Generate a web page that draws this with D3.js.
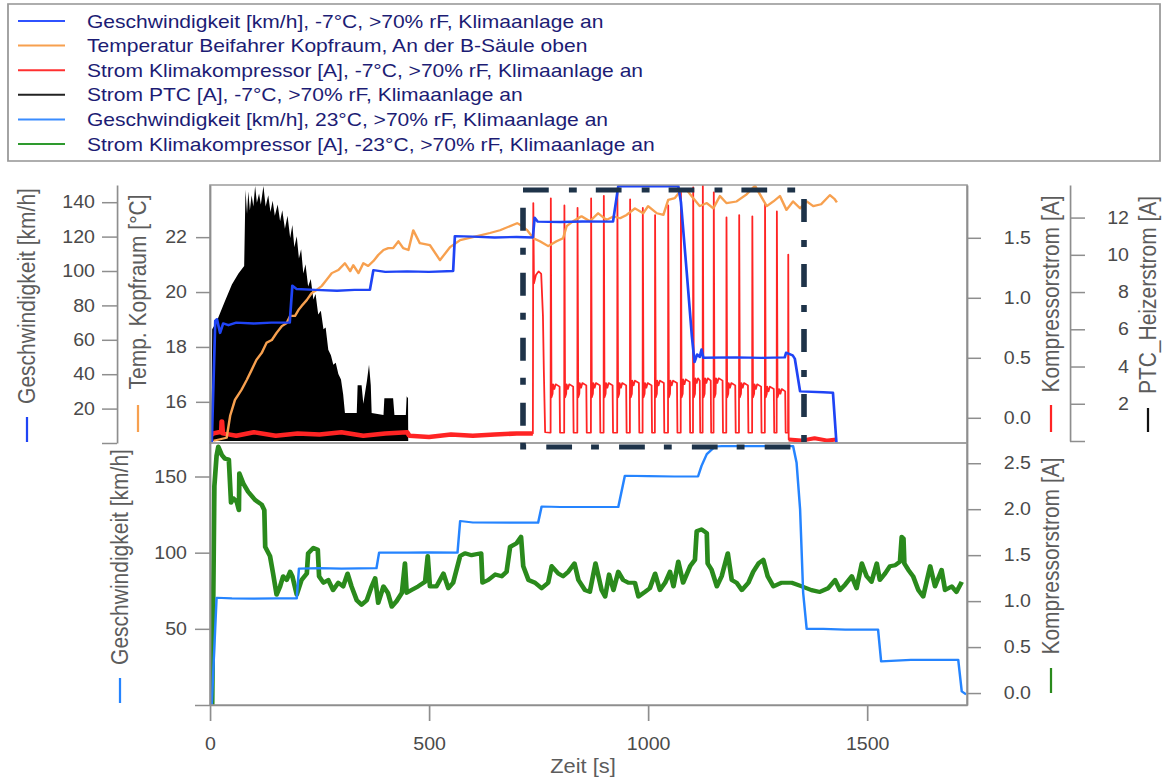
<!DOCTYPE html>
<html>
<head>
<meta charset="utf-8">
<script src="https://cdn.jsdelivr.net/npm/d3@7"></script>
<style>
  html, body { margin: 0; padding: 0; background: #fff; }
  svg { display: block; font-family: "Liberation Sans", Arial, sans-serif; }
</style>
</head>
<body>
<svg id="chart" width="1163" height="778"></svg>
<script>
// ---------------- tick values ----------------
const timeTicks = [0, 500, 1000, 1500];
const speedTopTicks = [0, 20, 40, 60, 80, 100, 120, 140];
const tempTicks = [16, 18, 20, 22];
const compTopTicks = [0, 0.5, 1.0, 1.5];
const ptcTicks = [0, 2, 4, 6, 8, 10, 12];
const speedBottomTicks = [0, 50, 100, 150];
const compBottomTicks = [0, 0.5, 1.0, 1.5, 2.0, 2.5];

// ---------------- legend ----------------
const legendLabels = [
  "Geschwindigkeit [km/h], -7°C, >70% rF, Klimaanlage an",
  "Temperatur Beifahrer Kopfraum, An der B-Säule oben",
  "Strom Klimakompressor [A], -7°C, >70% rF, Klimaanlage an",
  "Strom PTC [A], -7°C, >70% rF, Klimaanlage an",
  "Geschwindigkeit [km/h], 23°C, >70% rF, Klimaanlage an",
  "Strom Klimakompressor [A], -23°C, >70% rF, Klimaanlage an"
];
const legendColors = ["#2f52ff", "#f7a04f", "#ff3030", "#222222", "#3a8cff", "#2e9a2e"];

// ---------------- top panel series: [time s, value] ----------------
// vehicle speed at -7 °C [km/h]
const speedCold = [
  [0,0],[4,0],[12,71],[16,72],[23,64],[30,69.5],[42,68.5],[60,70],[100,69.5],[140,70],[182,70],
  [188,91.5],[198,89.5],[240,89],[290,88.5],[330,89],[365,89],
  [373,100.5],[400,99.5],[450,99.8],[500,99.5],[555,100],
  [559,120.3],[600,120],[650,119.5],[700,119.8],[737,119.5],
  [741,131],[748,128.7],[800,128.5],[850,128.8],[920,128.7],
  [932,149.3],[1000,149.3],[1069,149.3],
  [1075,140],[1088,100],[1100,62],[1106,47],[1112,51.5],[1118,50],[1122,54.4],[1126,49.6],
  [1200,49.8],[1260,49.5],[1312,49.8],[1315,52.5],[1330,51],[1335,49],
  [1347,30],[1400,29.5],[1422,29.2],[1430,0]
];

// cabin head-space temperature, passenger side [°C]
const tempCabin = [
  [8,14.58],[38,14.69],[46,15.49],[57,16.07],[72,16.44],[84,16.8],[95,17.16],[106,17.53],[118,17.78],
  [129,18.15],[141,18.25],[152,18.51],[164,18.76],[175,18.87],[183,19.13],[194,19.13],[202,19.35],
  [209,19.49],[221,19.71],[232,19.96],[243,20.07],[255,20.22],[266,20.44],[278,20.69],[293,20.8],
  [308,21.05],[320,20.76],[327,20.98],[339,20.69],[350,21.05],[361,20.95],[373,21.13],[384,21.35],
  [396,21.53],[407,21.6],[418,21.6],[430,21.85],[441,21.6],[453,21.53],[464,22.25],[479,21.78],
  [502,21.71],[525,21.16],[548,21.64],[571,21.89],[600,22.0],[639,22.15],[662,22.25],[701,22.51],
  [708,22.45],[723,22.27],[738,21.96],[753,21.85],[772,21.67],[791,21.85],[806,21.96],[814,22.4],
  [829,22.58],[848,22.76],[867,22.58],[886,22.87],[905,22.63],[921,22.75],[936,22.69],[951,22.81],
  [970,23.05],[989,22.87],[1000,23.13],[1020,22.87],[1035,22.81],[1046,23.36],[1061,23.42],[1073,23.67],
  [1088,23.72],[1103,23.42],[1118,23.13],[1134,23.24],[1149,23.05],[1164,23.5],[1179,23.24],[1202,23.3],
  [1225,23.56],[1244,23.87],[1256,23.54],[1271,23.13],[1286,23.3],[1301,23.5],[1316,22.99],[1331,23.3],
  [1347,23.05],[1362,23.3],[1377,23.13],[1395,23.2],[1415,23.53],[1425,23.4],[1431,23.27]
];

// PTC heater current, peak envelope of the switching [A]
const ptcCurrent = [
  [3,0],[5,6.0],[15,6.4],[34,7.5],[50,8.4],[65,9.0],[78,9.4],
  [81,13.5],[84.5,12.2],[87.5,13.4],[91,12.4],[95,13.2],[99,12.6],[103,13.7],[107,12.8],[112,13.3],
  [116,12.7],[122,13.7],[127,12.6],[133,13.2],[138,12.3],[143,12.9],[148,12.1],[154.5,12.7],[160,11.8],
  [165,12.4],[171,11.4],[177,12.1],[183,10.9],[188,11.6],[192.5,10.4],[198,11.0],[203,9.8],[208,10.3],
  [213,9.0],[218,9.5],[224,8.3],[230,8.7],[236,7.6],[241,7.9],[247,6.8],[253,7.0],[259,6.0],[264,6.1],
  [270,4.9],[276,4.6],[281.5,4.1],[287,4.2],[293,3.6],[299,3.3],[304,2.5],[308,1.5],[335,1.5],
  [337,3.0],[346,3.0],[350,2.0],[358,3.2],[363,4.1],[367,3.0],[369,1.5],[396,1.4],[398,2.3],
  [418,2.3],[421,1.4],[447,1.4],[449,2.4],[452,2.3],[452.5,0]
];

// compressor current at -7 °C [A]: idle part, start-up hump, on/off cycles, tail
const compIdle = [
  [0,-0.15],[8,-0.13],[20,-0.12],[26,-0.12],[27,-0.03],[29,-0.13],[60,-0.15],[100,-0.12],[150,-0.15],
  [200,-0.13],[250,-0.14],[300,-0.12],[350,-0.15],[400,-0.13],[450,-0.12],[455,-0.15],[500,-0.16],
  [550,-0.14],[600,-0.15],[650,-0.14],[700,-0.13],[737,-0.13]
];
const compHump = [
  [738,1.79],[739.5,1.12],[744,1.19],[750,1.22],[756,1.2],[760,0.85],[762,0.4],[765,-0.12],[777,-0.125]
];
const compSpikeTimes = [778,809,839,870,899,930,959,988,1016,1046,1075,1103,1125,1150,1179,1208,1238,1267,1294,1320];
const compSpikePeaks = [1.83,1.77,1.75,1.83,1.85,1.87,1.82,1.75,1.69,1.77,1.88,1.92,1.94,1.88,1.67,1.69,1.68,1.78,1.72,1.36];
const compPlateauTops = [0.28,0.28,0.29,0.29,0.29,0.29,0.31,0.29,0.31,0.31,0.32,0.33,0.33,0.33,0.29,0.29,0.28,0.26,0.24];
const compBaseLevel = -0.125;
const compTail = [[1321,-0.18],[1350,-0.19],[1380,-0.17],[1410,-0.19],[1430,-0.18]];

// ---------------- bottom panel series ----------------
// vehicle speed at 23 °C [km/h]
const speedWarm = [
  [0,0],[4,0],[15,70.4],[50,70],[100,69.8],[150,70],[198,70],
  [203,89.5],[250,89.8],[300,89.5],[380,89.8],
  [386,100],[450,100],[500,100.2],[565,100],
  [571,120.8],[600,119.8],[700,119.7],[749,119.7],
  [757,130.3],[800,130],[900,130],[932,130],
  [947,150.5],[1000,150.2],[1060,150],[1114,150],
  [1122,157],[1134,164.7],[1153,169.7],[1168,170],[1250,170],[1331,170],
  [1339,159],[1347,128.5],[1354,73.7],[1362,50],[1400,50],[1450,49.5],[1525,49.5],
  [1532,28.7],[1600,29.6],[1650,29.6],[1708,29.6],[1716,9],[1726,7]
];

// compressor current at -23 °C [A]
const compColdest = [
  [5,-0.13],[10,2.25],[15,2.58],[19,2.68],[27,2.59],[34,2.55],[43,2.54],[48,2.07],[53,2.12],[61,2.08],
  [66,1.99],[67,2.39],[76,2.28],[87,2.19],[103,2.1],[118,2.05],[124,1.99],[126,1.59],[137,1.49],[144,1.3],
  [152,1.07],[160,1.16],[167,1.27],[175,1.23],[183,1.32],[188,1.27],[198,1.07],[209,1.23],[221,1.3],
  [224,1.52],[236,1.58],[246,1.56],[249,1.27],[259,1.2],[270,1.23],[281,1.12],[293,1.2],[304,1.16],
  [314,1.3],[323,1.16],[335,1.01],[346,0.96],[358,1.01],[369,1.16],[377,1.25],[384,0.98],[396,1.16],
  [406,1.09],[415,0.94],[426,1.0],[438,1.09],[445,1.41],[449,1.09],[460,1.12],[475,1.16],[491,1.21],
  [497,1.49],[502,1.16],[517,1.16],[533,1.3],[544,1.14],[555,1.2],[571,1.49],[582,1.52],[597,1.5],
  [619,1.52],[622,1.2],[635,1.23],[651,1.29],[666,1.27],[677,1.32],[685,1.59],[700,1.63],[710,1.7],
  [715,1.38],[727,1.23],[742,1.2],[757,1.14],[772,1.2],[780,1.38],[795,1.3],[806,1.27],[818,1.32],
  [832,1.41],[841,1.23],[856,1.12],[867,1.1],[880,1.41],[894,1.12],[902,1.05],[911,1.29],[921,1.12],
  [932,1.32],[943,1.23],[955,1.2],[970,1.2],[978,1.05],[993,1.1],[1004,1.14],[1016,1.3],[1027,1.12],
  [1039,1.2],[1050,1.32],[1058,1.16],[1069,1.43],[1080,1.2],[1096,1.38],[1107,1.45],[1111,1.76],
  [1122,1.78],[1134,1.74],[1136,1.41],[1145,1.34],[1157,1.16],[1168,1.27],[1182,1.52],[1191,1.23],
  [1202,1.2],[1214,1.12],[1229,1.2],[1240,1.32],[1252,1.41],[1263,1.45],[1273,1.27],[1286,1.16],
  [1305,1.2],[1328,1.2],[1351,1.16],[1373,1.12],[1392,1.1],[1411,1.14],[1427,1.23],[1438,1.12],
  [1450,1.18],[1465,1.27],[1476,1.14],[1488,1.41],[1499,1.27],[1510,1.21],[1522,1.41],[1529,1.23],
  [1541,1.3],[1552,1.38],[1564,1.39],[1575,1.43],[1579,1.7],[1583,1.68],[1585,1.41],[1594,1.34],
  [1605,1.27],[1617,1.12],[1628,1.05],[1644,1.38],[1655,1.16],[1670,1.34],[1678,1.12],[1693,1.16],
  [1704,1.1],[1716,1.21]
];

// ---------------- layout ----------------
const SX = 1.12;              // the figure is drawn slightly wider than tall
const U = v => v / SX;        // page x -> drawing x inside the stretched group

const AXIS = "#8e8e8e";
const TICK_TEXT = "#4a4a4a";
const TITLE = "#5c5c5c";

const COL_SPEED_COLD = "#1f44f5";
const COL_TEMP = "#f7a04f";
const COL_COMP = "#ff2424";
const COL_PTC = "#000000";
const COL_SPEED_WARM = "#2584ff";
const COL_COMP_COLDEST = "#2a8a1c";

const svg = d3.select("#chart");
const root = svg.append("g").attr("transform", `scale(${SX},1)`);

const xTime = d3.scaleLinear().domain([0, 1728]).range([U(210), U(967)]);
const yTopSpeed = d3.scaleLinear().domain([0, 150]).range([443, 185]);
const yTemp = d3.scaleLinear().domain([14.5, 23.9]).range([443, 185]);
const yTopComp = d3.scaleLinear().domain([-0.21, 1.94]).range([443, 185]);
const yPtc = d3.scaleLinear().domain([0, 13.75]).range([441, 185]);
const yBotSpeed = d3.scaleLinear().domain([0, 172]).range([705, 443]);
const yBotComp = d3.scaleLinear().domain([-0.13, 2.72]).range([705, 443]);

// ---------------- legend ----------------
root.append("rect")
  .attr("x", U(8)).attr("y", 4).attr("width", U(1152)).attr("height", 157)
  .attr("fill", "#fff").attr("stroke", "#9a9a9a").attr("stroke-width", 1.6);
legendLabels.forEach((lab, i) => {
  const cy = 21 + i * 24.6;
  root.append("line")
    .attr("x1", U(18)).attr("x2", U(65)).attr("y1", cy).attr("y2", cy)
    .attr("stroke", legendColors[i]).attr("stroke-width", 2);
  root.append("text")
    .attr("x", U(87)).attr("y", cy).attr("dominant-baseline", "central")
    .attr("fill", "#1c1c74").style("font-size", "18.8px").text(lab);
});

// ---------------- clip regions ----------------
const defs = svg.append("defs");
defs.append("clipPath").attr("id", "clipTop").append("rect")
  .attr("x", U(210)).attr("y", 185).attr("width", U(757)).attr("height", 258);
defs.append("clipPath").attr("id", "clipBot").append("rect")
  .attr("x", U(210)).attr("y", 443).attr("width", U(757)).attr("height", 262);

// ---------------- top panel ----------------
const topPanel = root.append("g").attr("clip-path", "url(#clipTop)");

topPanel.append("path").datum(ptcCurrent)
  .attr("d", d3.area().x(d => xTime(d[0])).y0(yPtc(0)).y1(d => yPtc(d[1])))
  .attr("fill", COL_PTC);

// compressor current: idle, hump, cycles, tail
const compPts = [...compIdle, ...compHump];
compSpikeTimes.forEach((t, i) => {
  const next = compSpikeTimes[i + 1];
  compPts.push([t - 0.5, compBaseLevel], [t, compSpikePeaks[i]]);
  if (next !== undefined) {
    const p = compPlateauTops[i];
    const end = Math.min(t + 21, next - 6);
    compPts.push([t + 1.5, 0.17], [t + 4, 0.2], [t + 5, p], [t + 8, p - 0.04], [t + 11, p],
                 [end - 1, p - 0.02], [end, compBaseLevel], [next - 0.5, compBaseLevel]);
  }
});
compPts.push(...compTail);

const lineTopComp = d3.line().x(d => xTime(d[0])).y(d => yTopComp(d[1]));
topPanel.append("path").datum(compIdle).attr("d", lineTopComp)
  .attr("fill", "none").attr("stroke", COL_COMP).attr("stroke-width", 4.5).attr("stroke-linejoin", "round");
topPanel.append("path").datum(compTail).attr("d", lineTopComp)
  .attr("fill", "none").attr("stroke", COL_COMP).attr("stroke-width", 4).attr("stroke-linejoin", "round");
topPanel.append("path").datum(compPts).attr("d", lineTopComp)
  .attr("fill", "none").attr("stroke", COL_COMP).attr("stroke-width", 1.6).attr("stroke-linejoin", "round");

topPanel.append("path").datum(tempCabin)
  .attr("d", d3.line().x(d => xTime(d[0])).y(d => yTemp(d[1])))
  .attr("fill", "none").attr("stroke", COL_TEMP).attr("stroke-width", 2.2).attr("stroke-linejoin", "round");

topPanel.append("path").datum(speedCold)
  .attr("d", d3.line().x(d => xTime(d[0])).y(d => yTopSpeed(d[1])))
  .attr("fill", "none").attr("stroke", COL_SPEED_COLD).attr("stroke-width", 2.4).attr("stroke-linejoin", "round");

// ---------------- bottom panel ----------------
const bottomPanel = root.append("g").attr("clip-path", "url(#clipBot)");
bottomPanel.append("path").datum(compColdest)
  .attr("d", d3.line().x(d => xTime(d[0])).y(d => yBotComp(d[1])))
  .attr("fill", "none").attr("stroke", COL_COMP_COLDEST).attr("stroke-width", 4.2).attr("stroke-linejoin", "round");
bottomPanel.append("path").datum(speedWarm)
  .attr("d", d3.line().x(d => xTime(d[0])).y(d => yBotSpeed(d[1])))
  .attr("fill", "none").attr("stroke", COL_SPEED_WARM).attr("stroke-width", 2.2).attr("stroke-linejoin", "round");

// ---------------- frames ----------------
[[185, 258], [443, 262]].forEach(([y, h]) => {
  root.append("rect").attr("x", U(210)).attr("y", y).attr("width", U(757)).attr("height", h)
    .attr("fill", "none").attr("stroke", "#9c9c9c").attr("stroke-width", 1.5);
});

// ---------------- axes ----------------
function drawAxis(axis, tx, ty) {
  const g = root.append("g").attr("transform", `translate(${tx},${ty})`).call(axis);
  g.attr("font-size", null).attr("font-family", null);
  g.select(".domain").attr("stroke", AXIS).attr("stroke-width", 1.5);
  g.selectAll(".tick line").attr("stroke", AXIS).attr("stroke-width", 1.5);
  g.selectAll(".tick text").attr("fill", TICK_TEXT).style("font-size", "17.5px");
  return g;
}
const hideZero = f => d => (d === 0 ? "" : f(d));

drawAxis(d3.axisLeft(yTopSpeed).tickValues(speedTopTicks).tickSize(U(15)).tickPadding(U(7))
  .tickSizeOuter(0).tickFormat(hideZero(d3.format("d"))), U(117), 0);
drawAxis(d3.axisLeft(yTemp).tickValues(tempTicks).tickSize(U(14)).tickPadding(U(9))
  .tickSizeOuter(0).tickFormat(d3.format("d")), U(210), 0);
drawAxis(d3.axisRight(yTopComp).tickValues(compTopTicks).tickSize(U(14))
  .tickSizeOuter(0).tickFormat(d3.format(".1f")), U(967), 0)
  .selectAll(".tick text").attr("text-anchor", "end").attr("x", U(64));
drawAxis(d3.axisRight(yPtc).tickValues(ptcTicks).tickSize(U(15))
  .tickSizeOuter(0).tickFormat(hideZero(d3.format("d"))), U(1070), 0)
  .selectAll(".tick text").attr("text-anchor", "end").attr("x", U(59));

drawAxis(d3.axisLeft(yBotSpeed).tickValues(speedBottomTicks).tickSize(U(15)).tickPadding(U(8))
  .tickSizeOuter(0).tickFormat(hideZero(d3.format("d"))), U(210), 0);
drawAxis(d3.axisRight(yBotComp).tickValues(compBottomTicks).tickSize(U(14))
  .tickSizeOuter(0).tickFormat(d3.format(".1f")), U(967), 0)
  .selectAll(".tick text").attr("text-anchor", "end").attr("x", U(64));
drawAxis(d3.axisBottom(xTime).tickValues(timeTicks).tickSize(16).tickPadding(17)
  .tickSizeOuter(0).tickFormat(d3.format("d")), 0, 705);

// ---------------- axis titles with series markers ----------------
function axisTitle(label, cx, cy, color, m0, m1) {
  root.append("text")
    .attr("transform", `translate(${U(cx)},${cy}) rotate(-90)`)
    .attr("text-anchor", "middle").attr("dominant-baseline", "central")
    .attr("fill", TITLE).style("font-size", "21px").text(label);
  root.append("line")
    .attr("x1", U(cx)).attr("x2", U(cx)).attr("y1", m0).attr("y2", m1)
    .attr("stroke", color).attr("stroke-width", 2);
}
axisTitle("Geschwindigkeit [km/h]", 27, 296, COL_SPEED_COLD, 417, 442);
axisTitle("Temp. Kopfraum [°C]", 138, 292, COL_TEMP, 405, 432);
axisTitle("Kompressorstrom [A]", 1051, 294, COL_COMP, 405, 432);
axisTitle("PTC_Heizerstrom [A]", 1148, 295, "#111", 408, 432);
axisTitle("Geschwindigkeit [km/h]", 120, 557, COL_SPEED_WARM, 678, 703);
axisTitle("Kompressorstrom [A]", 1051, 556, COL_COMP_COLDEST, 668, 693);

root.append("text")
  .attr("x", U(583)).attr("y", 766).attr("text-anchor", "middle").attr("dominant-baseline", "central")
  .attr("fill", TITLE).style("font-size", "19.5px").text("Zeit [s]");

// ---------------- highlighted window (dash-dot box) ----------------
root.append("rect")
  .attr("x", U(523)).attr("y", 190).attr("width", U(281)).attr("height", 257)
  .attr("fill", "none").attr("stroke", "#1e3349").attr("stroke-width", 5)
  .attr("stroke-dasharray", "23 18 7 17");
</script>
</body>
</html>
